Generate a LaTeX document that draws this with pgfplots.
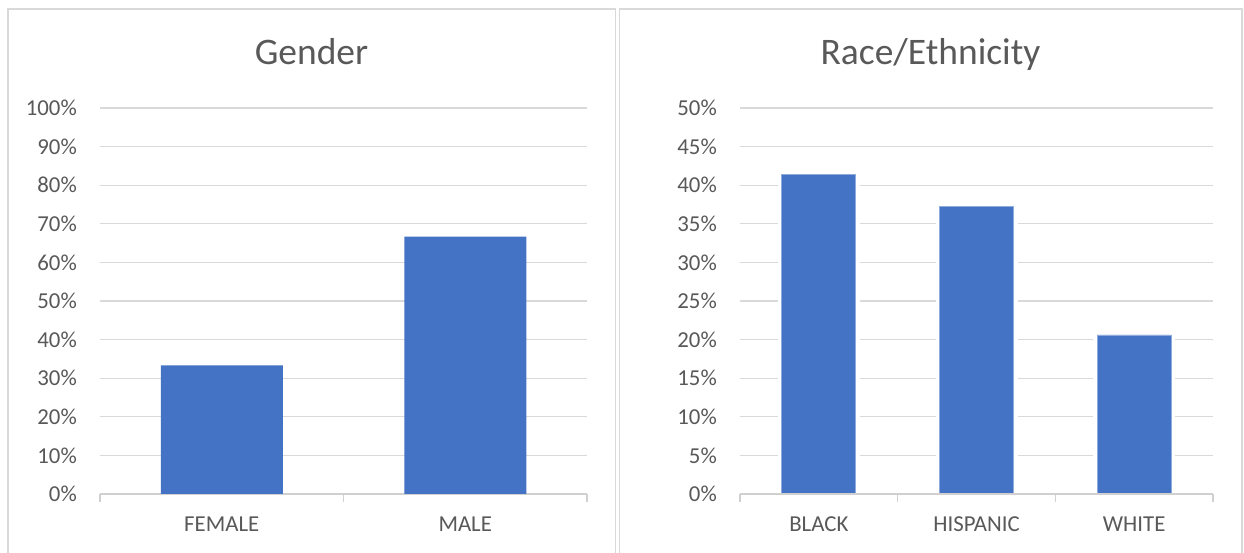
\documentclass[border=0pt]{standalone}
\usepackage{pgfplots}
\pgfplotsset{compat=1.18}
\usepackage{fontspec}
\setmainfont{Carlito}
\definecolor{barblue}{HTML}{4472C4}
\definecolor{txtgray}{HTML}{595959}
\definecolor{gridgray}{HTML}{D9D9D9}
\definecolor{axgray}{HTML}{D0D0D0}
\pgfplotsset{
  mybars/.style={
    scale only axis,
    anchor=south west,
    ybar, ymin=0,
    axis lines*=left,
    y axis line style={draw=none},
    x axis line style={draw=axgray, line width=1.3pt},
    ymajorgrids,
    grid style={gridgray, line width=1.3pt},
    ytick style={draw=none},
    xtick style={draw=none},
    major tick length=0pt,
    tick label style={font=\fontsize{22.8}{26}\selectfont, text=txtgray},
    /pgf/number format/assume math mode=true,
    yticklabel={\pgfmathprintnumber{\tick}\%},
    yticklabel style={anchor=east, inner sep=0pt, xshift=-23pt},
    xticklabel style={anchor=north, inner sep=0pt, yshift=-23pt},
    extra x tick style={major tick length=8pt, tick align=outside, xtick style={draw=axgray, line width=1.3pt}, grid=none},
  }
}
\begin{document}
\begin{tikzpicture}[x=1pt,y=1pt]
\useasboundingbox (0,0) rectangle (1244,553);
\fill[white] (0,0) rectangle (1244,553);
\draw[gridgray, line width=1.5pt] (8,-5) -- (8,544) -- (615.5,544) -- (615.5,-5);
\draw[gridgray, line width=1.5pt] (619.5,-5) -- (619.5,544) -- (1242,544) -- (1242,-5);
\node[anchor=base, text=txtgray, font=\fontsize{37.5}{42}\selectfont] at (311.5,488) {Gender};
\node[anchor=base, text=txtgray, font=\fontsize{37.5}{42}\selectfont] at (930.5,488) {Race/Ethnicity};

\begin{axis}[mybars,
  at={(100pt,59pt)},
  width=487pt, height=386pt,
  xmin=-0.5, xmax=1.5, ymax=100,
  ytick={0,10,...,100},
  xtick={0,1}, xticklabels={FEMALE,MALE},
  extra x ticks={-0.5,0.5,1.5}, extra x tick labels={},
  bar width=122pt,
]
\addplot[fill=barblue, draw=none] coordinates {(0,33.3) (1,66.7)};
\end{axis}

\begin{axis}[mybars,
  at={(740pt,59pt)},
  width=473pt, height=386pt,
  xmin=-0.5, xmax=2.5, ymax=50,
  ytick={0,5,...,50},
  xtick={0,1,2}, xticklabels={BLACK,HISPANIC,WHITE},
  extra x ticks={-0.5,0.5,1.5,2.5}, extra x tick labels={},
  bar width=74pt,
]
\addplot[fill=barblue, draw=barblue!60!white, line width=0.8pt, preaction={draw=white, line width=8pt}] coordinates {(0,41.4) (1,37.3) (2,20.6)};
\draw[axgray, line width=1.3pt] (axis cs:-0.5,0) -- (axis cs:2.5,0);
\end{axis}
\end{tikzpicture}
\end{document}
